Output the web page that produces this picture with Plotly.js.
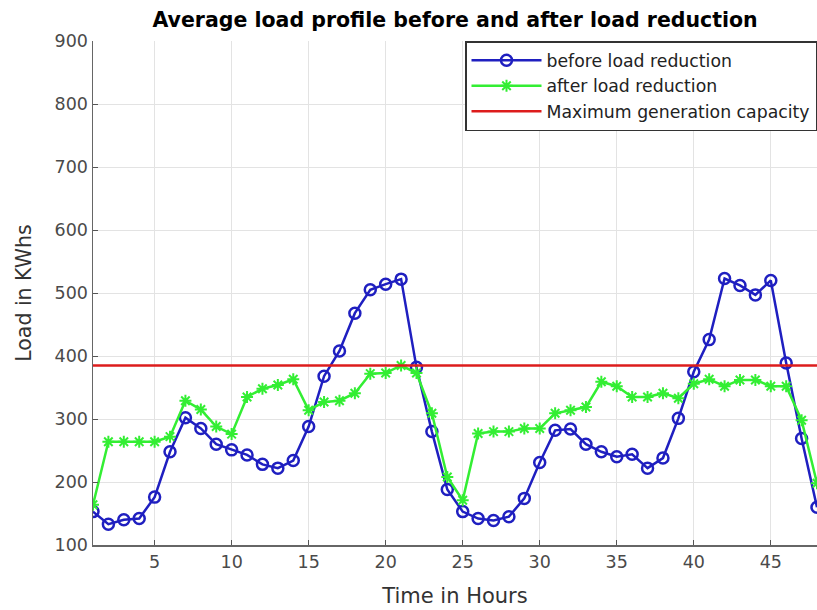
<!DOCTYPE html>
<html>
<head>
<meta charset="utf-8">
<script src="https://cdn.plot.ly/plotly-3.0.1.min.js"></script>
<style>html,body{margin:0;padding:0;background:#fff;}#chart{width:817px;height:610px;}</style>
</head>
<body>
<div id="chart"></div>
<script>
const hours = [1,2,3,4,5,6,7,8,9,10,11,12,13,14,15,16,17,18,19,20,21,22,23,24,25,26,27,28,29,30,31,32,33,34,35,36,37,38,39,40,41,42,43,44,45,46,47,48];
const beforeLoad = [153,133,140,142,176,248,302,285,260,251,243,228,222,234,288,368,408,468,505,514,522,382,280,188,153,142,139,145,174,231,282,284,260,248,240,244,222,238,301,375,426,523,512,497,520,389,269,160];
const afterLoad = [164,264,264,264,264,272,329,315,288,276,335,348,354,363,314,327,329,341,372,373,385,373,309,208,171,277,280,280,285,285,309,314,319,359,352,335,335,341,333,356,363,352,362,362,352,352,298,198];
const capacityX = [1,48];
const capacityY = [385,385];
const xTicks = [5,10,15,20,25,30,35,40,45];
const yTicks = [100,200,300,400,500,600,700,800,900];

const FONT = 'DejaVu Sans, Liberation Sans, Arial, sans-serif';

const traces = [
  {x: hours, y: beforeLoad, name: 'before load reduction', type: 'scatter', mode: 'lines+markers',
   line: {color: '#1f1fc0', width: 2.5},
   marker: {symbol: 'circle-open', size: 11, color: '#1f1fc0', line: {width: 2.5, color: '#1f1fc0'}}},
  {x: hours, y: afterLoad, name: 'after load reduction', type: 'scatter', mode: 'lines+markers',
   line: {color: '#33ee33', width: 2.5},
   marker: {symbol: 'asterisk-open', size: 10, color: '#33ee33', line: {width: 2, color: '#33ee33'}}},
  {x: capacityX, y: capacityY, name: 'Maximum generation capacity', type: 'scatter', mode: 'lines',
   line: {color: '#dd1c1c', width: 2.5}}
];

const layout = {
  width: 817, height: 610,
  margin: {l: 93, r: 0, t: 41, b: 65},
  paper_bgcolor: '#ffffff', plot_bgcolor: '#ffffff',
  font: {family: FONT, size: 17, color: '#333333'},
  title: {text: '<b>Average load profile before and after load reduction</b>', x: 0.557, xanchor: 'center', y: 0.967, yanchor: 'middle',
          font: {family: FONT, size: 20.5, color: '#000000'}},
  xaxis: {range: [1, 48], tickvals: xTicks, ticktext: xTicks.map(String), ticks: 'inside', ticklen: 5, tickcolor: '#555',
          showline: true, linecolor: '#666', linewidth: 1.5, mirror: false, showgrid: true, gridcolor: '#e3e3e3', gridwidth: 1,
          zeroline: false, tickfont: {family: FONT, size: 17.5, color: '#4a4a4a'},
          title: {text: 'Time in Hours', font: {family: FONT, size: 21, color: '#333'}, standoff: 18}},
  xaxis2: {range: [1, 48], overlaying: 'x', side: 'top', anchor: 'y', tickvals: xTicks, ticks: 'inside', ticklen: 5, tickcolor: '#555',
          showticklabels: false, showline: true, linecolor: '#666', linewidth: 1.5, showgrid: false, zeroline: false},
  yaxis: {range: [100, 900], tickvals: yTicks, ticktext: yTicks.map(String), ticks: 'inside', ticklen: 5, tickcolor: '#555',
          showline: true, linecolor: '#666', linewidth: 1.5, mirror: false, showgrid: true, gridcolor: '#e3e3e3', gridwidth: 1,
          zeroline: false, tickfont: {family: FONT, size: 17.5, color: '#4a4a4a'},
          title: {text: 'Load in KWhs', font: {family: FONT, size: 20.5, color: '#333'}, standoff: 17}},
  legend: {x: 1, xanchor: 'right', y: 1, yanchor: 'top', bgcolor: '#ffffff', bordercolor: '#333', borderwidth: 1.5,
           font: {family: FONT, size: 17.3, color: '#222'}, itemwidth: 70, tracegroupgap: 0},
  showlegend: true
};

Plotly.newPlot('chart', traces, layout, {displayModeBar: false, staticPlot: true});
</script>
</body>
</html>
